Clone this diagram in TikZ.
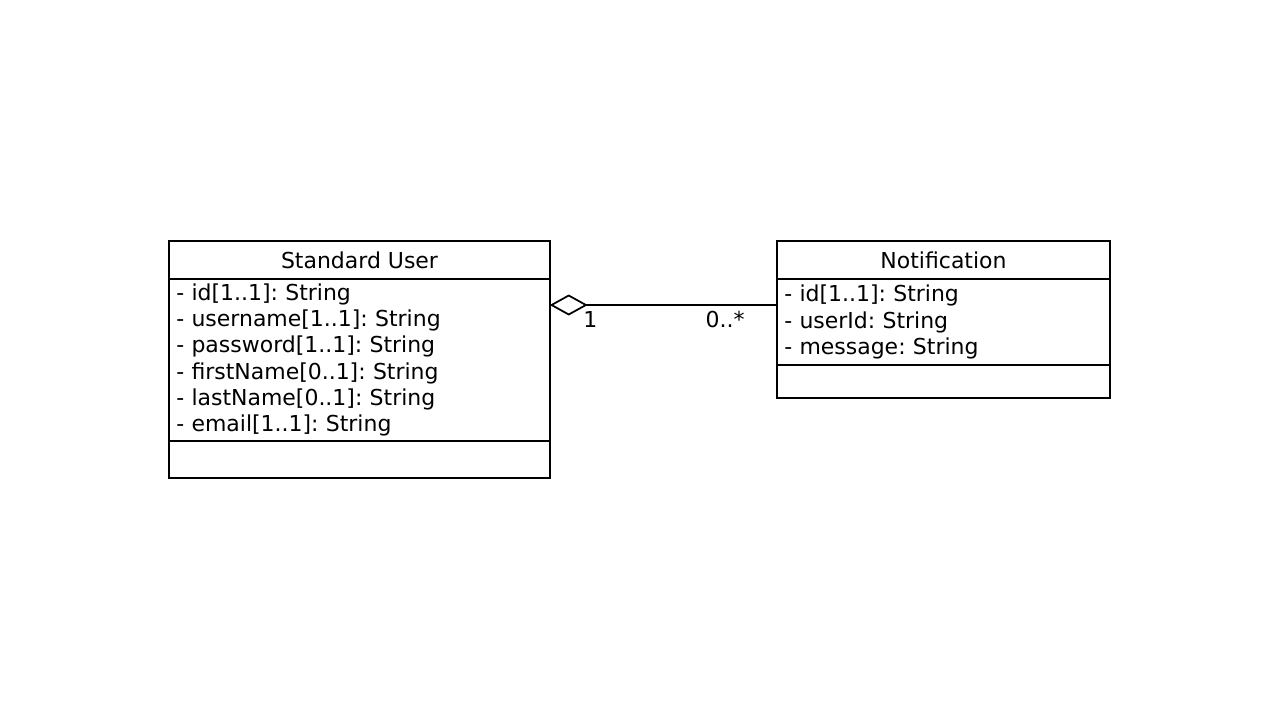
\documentclass[tikz,border=0pt]{standalone}
\usepackage{fontspec}
\setmainfont{DejaVu Sans}
\usetikzlibrary{arrows.meta,positioning,calc}
\frenchspacing

\begin{document}
\begin{tikzpicture}[
        line width=1pt,
        font=\fontsize{12.5}{14.9}\selectfont,
        classhead/.style={rectangle, draw=black, inner sep=0pt, outer sep=0pt, minimum height=0.76cm},
        classbody/.style={rectangle, draw=black, inner xsep=4pt, inner ysep=0pt, outer sep=0pt, align=left},
        aggr/.style={{Diamond[open, length=0.76cm, width=0.42cm]}-}
      ]
        \useasboundingbox (0,0) rectangle (25.6,-14.4);

        % Standard User
        \node (user) [classhead, minimum width=7.62cm, anchor=north west] at (3.38,-4.82) {Standard User};
        \node (uattr) [below=0pt of user, classbody, text width=208.5pt, minimum height=3.24cm] {- id[1..1]: String\\- username[1..1]: String\\- password[1..1]: String\\- firstName[0..1]: String\\- lastName[0..1]: String\\- email[1..1]: String};
        \node (uops) [below=0pt of uattr, classhead, minimum width=7.62cm, minimum height=0.74cm] {};

        % Notification
        \node (notif) [classhead, minimum width=6.66cm, anchor=north west] at (15.54,-4.82) {Notification};
        \node (nattr) [below=0pt of notif, classbody, text width=181.2pt, minimum height=1.72cm] {- id[1..1]: String\\- userId: String\\- message: String};
        \node (nops) [below=0pt of nattr, classhead, minimum width=6.66cm, minimum height=0.66cm] {};

        % aggregation
        \coordinate (agg) at ($(uattr.north east)+(0,-0.52)$);
        \draw[aggr] (agg) -- node[pos=0, below right, inner sep=1pt, xshift=0.62cm, yshift=-0.07cm] (one) {1}
                               node[pos=1, below left, inner sep=1pt, xshift=-0.6cm, yshift=-0.07cm] (many) {0..*} (nattr.west |- agg);

      \end{tikzpicture}
\end{document}
